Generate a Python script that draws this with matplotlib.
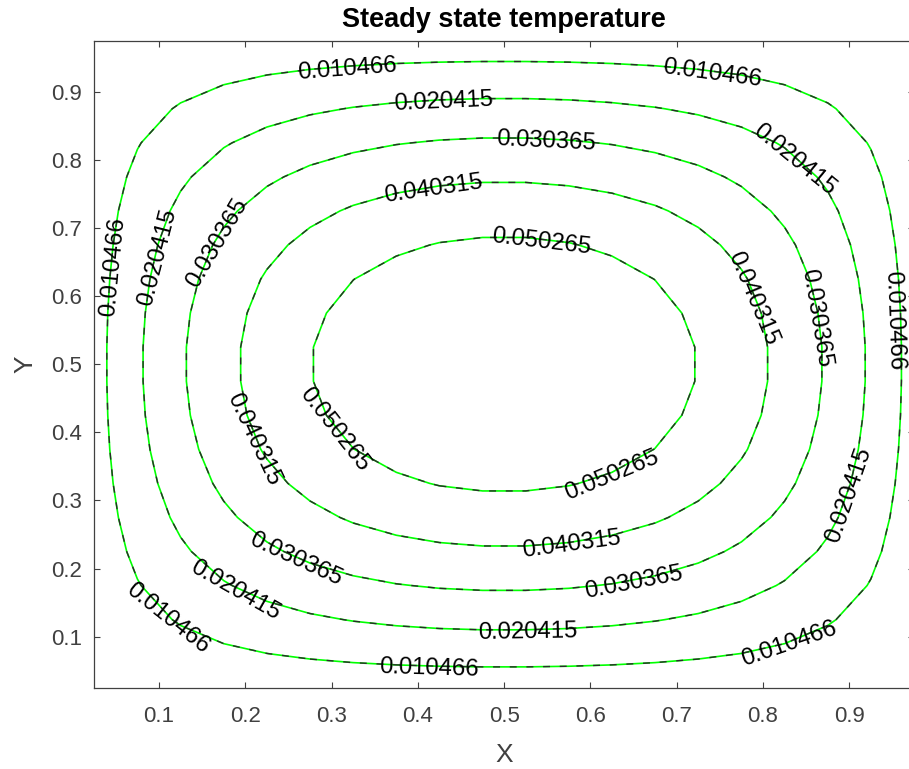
import numpy as np
import matplotlib
matplotlib.use("Agg")
import matplotlib.pyplot as plt
from matplotlib.transforms import ScaledTranslation

# --- grid (cell centres) and temperature profiles ---
x_grid = [0.025, 0.075, 0.125, 0.175, 0.225, 0.275, 0.325, 0.375, 0.425, 0.475,
          0.525, 0.575, 0.625, 0.675, 0.725, 0.775, 0.825, 0.875, 0.925, 0.975]
y_grid = [0.025, 0.075, 0.125, 0.175, 0.225, 0.275, 0.325, 0.375, 0.425, 0.475,
          0.525, 0.575, 0.625, 0.675, 0.725, 0.775, 0.825, 0.875, 0.925, 0.975]

# relative temperature across X (through the middle of the plate)
x_profile = [0.114989, 0.316904, 0.485463, 0.624833, 0.738459, 0.829151, 0.899151,
             0.950191, 0.983533, 1.000000, 1.000000, 0.983533, 0.950191, 0.899151,
             0.829151, 0.738459, 0.624833, 0.485463, 0.316904, 0.114989]
# relative temperature across Y
y_profile = [0.078702, 0.234167, 0.383867, 0.524115, 0.651457, 0.762758, 0.855277,
             0.926738, 0.975378, 1.000000, 1.000000, 0.975378, 0.926738, 0.855277,
             0.762758, 0.651457, 0.524115, 0.383867, 0.234167, 0.078702]
peak_temp = 0.060215

contour_levels = [0.010466, 0.020415, 0.030365, 0.040315, 0.050265]

# where the labels sit on each ring (data coords)
label_spots = [
    (0.318, 0.931), (0.741, 0.923), (0.048, 0.643), (0.958, 0.564),
    (0.115, 0.133), (0.413, 0.057), (0.829, 0.095),
    (0.430, 0.884), (0.832, 0.794), (0.106, 0.655), (0.907, 0.305),
    (0.192, 0.176), (0.527, 0.107),
    (0.548, 0.824), (0.172, 0.674), (0.857, 0.567), (0.261, 0.218), (0.650, 0.180),
    (0.419, 0.753), (0.783, 0.594), (0.217, 0.394), (0.578, 0.237),
    (0.543, 0.674), (0.312, 0.412), (0.623, 0.344),
]

temp = peak_temp * np.outer(y_profile, x_profile)
X, Y = np.meshgrid(x_grid, y_grid)

plt.rcParams['font.family'] = ['Liberation Sans', 'DejaVu Sans']

fig = plt.figure(figsize=(9.09, 7.69), dpi=100)
ax = fig.add_axes([0.1037, 0.1057, 0.9018, 0.8414])

axis_col = '#404040'

# green line underneath, black dashes on top
ax.contour(X, Y, temp, levels=contour_levels, colors='#00ff00', linewidths=1.2)
cs = ax.contour(X, Y, temp, levels=contour_levels, colors='#2a2a2a',
                linewidths=1.0, linestyles=[(0, (5.0, 7.0))])
ax.clabel(cs, contour_levels, manual=label_spots, inline=False, fmt='%.6f',
          fontsize=17.2, colors='k')
# MATLAB puts the line through the middle of the digits
for t in cs.labelTexts:
    t.set_rotation_mode('anchor')
    t.set_verticalalignment('center_baseline')
    # the label on the far right edge would run off the picture
    if t.get_position()[0] > 0.95:
        t.set_transform(t.get_transform() +
                        ScaledTranslation(-4 / 100, 0, fig.dpi_scale_trans))

ax.set_xlim(min(x_grid), max(x_grid))
ax.set_ylim(min(y_grid), max(y_grid))
ax.set_xticks([0.1, 0.2, 0.3, 0.4, 0.5, 0.6, 0.7, 0.8, 0.9])
ax.set_yticks([0.1, 0.2, 0.3, 0.4, 0.5, 0.6, 0.7, 0.8, 0.9])

ax.tick_params(direction='in', length=4.3, width=0.8, top=True, right=True,
               labelsize=16, colors=axis_col)
ax.tick_params(axis='x', pad=13)
ax.tick_params(axis='y', pad=9)
for s in ax.spines.values():
    s.set_color(axis_col)
    s.set_linewidth(0.9)

ax.set_title('Steady state temperature', fontsize=19.5, fontweight='bold', pad=10)
ax.set_xlabel('X', fontsize=19, color=axis_col)
ax.set_ylabel('Y', fontsize=19, color=axis_col)
ax.xaxis.set_label_coords(0.5, -0.0855)
ax.yaxis.set_label_coords(-0.069, 0.5)

fig.savefig('out.png', dpi=100)
